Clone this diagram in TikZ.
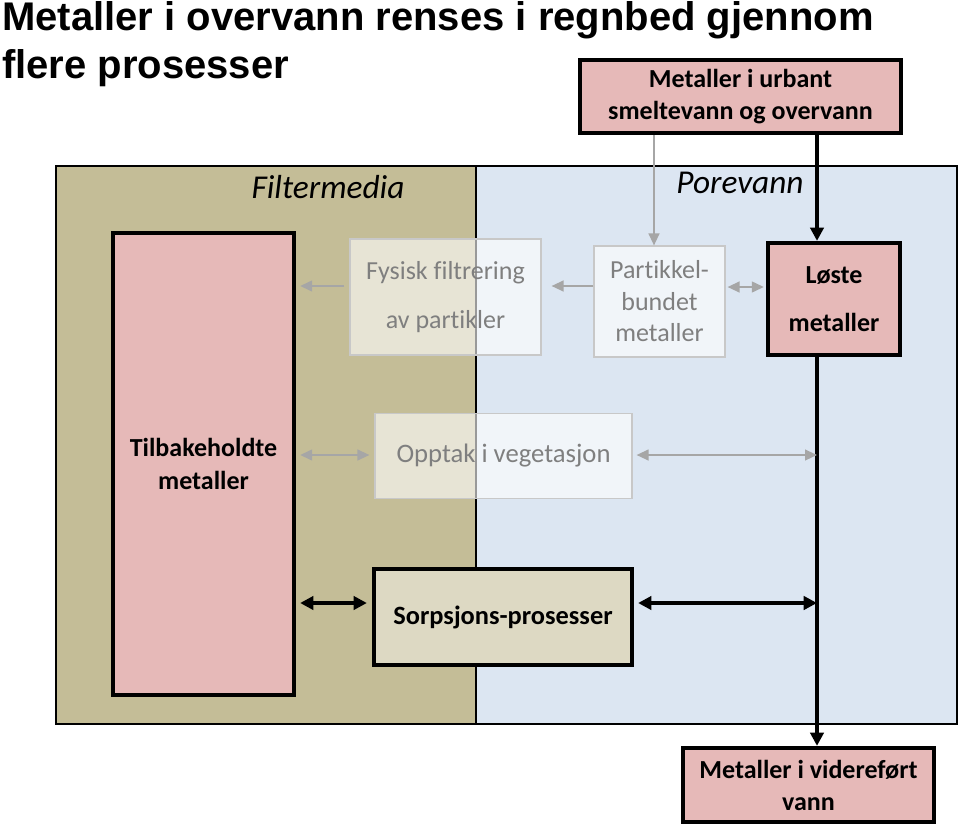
\documentclass[tikz,border=0pt]{standalone}
\usepackage{fontspec}
\setmainfont{Carlito}[Ligatures=NoCommon]
\newfontfamily\titlefont{Liberation Sans}
\usetikzlibrary{arrows.meta,calc}
\definecolor{tanfill}{HTML}{C4BD97}
\definecolor{bluefill}{HTML}{DCE6F2}
\definecolor{pinkfill}{HTML}{E6B9B8}
\definecolor{sorpfill}{HTML}{DDD9C3}
\definecolor{garrowc}{HTML}{A6A6A6}
\definecolor{gtext}{HTML}{7F7F7F}
\definecolor{gborder}{HTML}{C8C8C8}
\tikzset{
  region/.style={draw=black,line width=1.6pt,inner sep=0pt},
  boldbox/.style={draw=black,line width=3.2pt,fill=pinkfill,inner sep=0pt,align=center,font=\bfseries\fontsize{19.5}{23.5}\selectfont},
  fadebox/.style={draw=gborder,line width=0.8pt,fill=white,fill opacity=0.6,text opacity=1,text=gtext,inner sep=0pt,align=center},
  blackarrow/.style={line width=2.6pt,-{Triangle[length=10pt,width=10pt]}},
  blackdouble/.style={line width=2.6pt,{Triangle[length=10pt,width=10pt]}-{Triangle[length=10pt,width=10pt]}},
  grayarrow/.style={draw=garrowc,line width=1.6pt,-{Triangle[length=9pt,width=8pt]}},
  graydouble/.style={draw=garrowc,line width=1.6pt,{Triangle[length=9pt,width=8pt]}-{Triangle[length=9pt,width=8pt]}},
  reglabel/.style={font=\itshape\fontsize{25}{28}\selectfont,inner sep=0pt}
}
\begin{document}
\begin{tikzpicture}[x=0.75pt,y=-0.75pt]
\useasboundingbox (0,0) rectangle (960,825);
% title
\node[anchor=base west,inner sep=0pt,font=\titlefont\bfseries\fontsize{30}{34}\selectfont] (t1) at (2,30) {Metaller i overvann renses i regnbed gjennom};
\node[anchor=base west,inner sep=0pt,font=\titlefont\bfseries\fontsize{30}{34}\selectfont] (t2) at (2,78) {flere prosesser};
% regions
\node[region,fill=tanfill,minimum width={420*0.75pt},minimum height={558*0.75pt}] (fm) at (266,445) {};
\node[region,fill=bluefill,minimum width={481*0.75pt},minimum height={558*0.75pt}] (pv) at (716.5,445) {};
\node[reglabel] (fmlab) at (328,187) {Filtermedia};
\node[reglabel] (pvlab) at (740,183) {Porevann};
% main boxes
\node[boldbox,minimum width={321*0.75pt},minimum height={73*0.75pt}] (urb) at (740.5,96.5) {\rule{0pt}{9pt}Metaller i urbant\\smeltevann og overvann};
\node[boldbox,minimum width={132*0.75pt},minimum height={112*0.75pt},font=\bfseries\fontsize{19.5}{36}\selectfont] (loste) at (834,299) {Løste\\metaller};
\node[boldbox,minimum width={251*0.75pt},minimum height={74*0.75pt},font=\bfseries\fontsize{19.5}{24}\selectfont] (vid) at (808.5,785) {Metaller i videreført\\vann};
\node[boldbox,minimum width={181*0.75pt},minimum height={462*0.75pt},font=\bfseries\fontsize{19.5}{24.5}\selectfont] (tilb) at (203.5,464) {Tilbakeholdte\\metaller};
% faded boxes
\node[fadebox,minimum width={191*0.75pt},minimum height={116*0.75pt},font=\fontsize{19.5}{36.5}\selectfont] (fys) at (445.5,297) {Fysisk filtrering\\av partikler};
\node[fadebox,minimum width={131*0.75pt},minimum height={111*0.75pt},font=\fontsize{19.5}{23.6}\selectfont] (part) at (659.5,301.5) {Partikkel-\\bundet\\metaller};
\node[fadebox,minimum width={257*0.75pt},minimum height={85*0.75pt},font=\fontsize{20}{22}\selectfont] (opp) at (503.5,456) {Opptak i vegetasjon};
\node[boldbox,fill=sorpfill,minimum width={258*0.75pt},minimum height={96*0.75pt},font=\bfseries\fontsize{19.8}{22}\selectfont] (sorp) at (503,617) {Sorpsjons-prosesser};
% reference coordinates
\coordinate (xa) at (817,0);
\coordinate (xg) at (654,0);
\coordinate (ya) at (0,286);
\coordinate (yb) at (0,287);
\coordinate (yc) at (0,455);
\coordinate (yd) at (0,603);
% black flow
\draw[blackarrow] (urb.south -| xa) -- (loste.north -| xa);
\draw[blackarrow] (loste.south -| xa) -- (vid.north -| xa);
% gray flow
\draw[grayarrow] (urb.south -| xg) -- (part.north -| xg);
\draw[grayarrow,shorten >=10*0.75pt] (part.west |- ya) -- (fys.east |- ya);
\draw[graydouble,shorten <=2*0.75pt,shorten >=2*0.75pt] (part.east |- yb) -- (loste.west |- yb);
\draw[grayarrow,shorten <=5*0.75pt,shorten >=4*0.75pt] (fys.west |- ya) -- (tilb.east |- ya);
\draw[graydouble,shorten <=4*0.75pt,shorten >=5*0.75pt] (tilb.east |- yc) -- (opp.west |- yc);
\draw[graydouble,shorten <=4*0.75pt] (opp.east |- yc) -- (xa |- yc);
% sorption
\draw[blackdouble,shorten <=4*0.75pt,shorten >=5*0.75pt] (tilb.east |- yd) -- (sorp.west |- yd);
\draw[blackdouble,shorten <=4*0.75pt] (sorp.east |- yd) -- (xa |- yd);
\end{tikzpicture}
\end{document}
